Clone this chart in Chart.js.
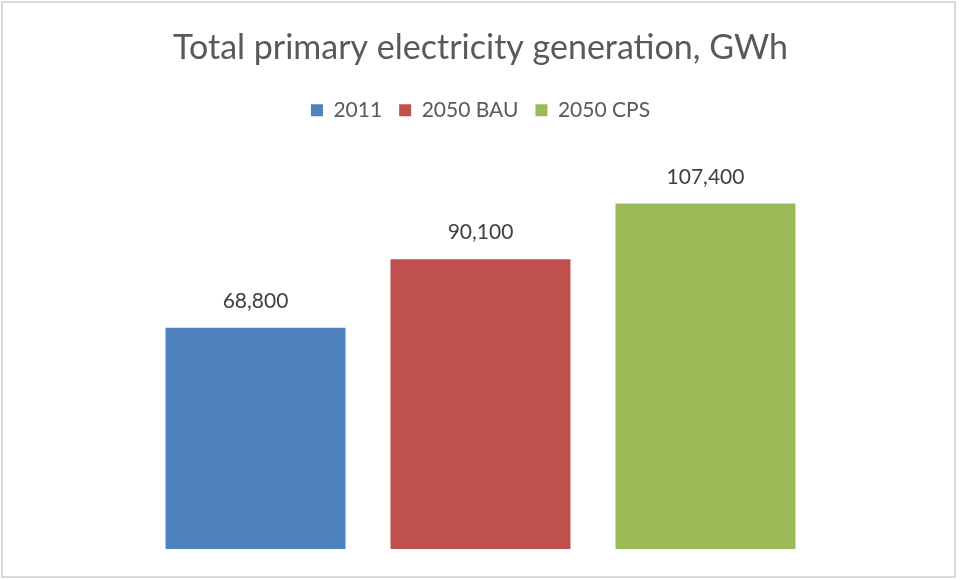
<!DOCTYPE html>
<html>
<head>
<meta charset="utf-8">
<script src="https://cdn.jsdelivr.net/npm/chart.js@4"></script>
<style>
  html, body { margin: 0; padding: 0; background: #fff; }
  #wrap { position: absolute; left: 0; top: 0; width: 961px; height: 580px; }
</style>
</head>
<body>
<div id="wrap"><canvas id="c" width="961" height="580"></canvas></div>
<script>
const categories = [''];
const seriesNames = ['2011', '2050 BAU', '2050 CPS'];
const series2011 = [68800];
const series2050BAU = [90100];
const series2050CPS = [107400];
const seriesColors = ['#4f81bd', '#c0504d', '#9bbb59'];

const FONT = 'Lato, "Open Sans", sans-serif';

const borderPlugin = {
  id: 'frame',
  beforeDraw(chart) {
    const ctx = chart.ctx;
    ctx.save();
    ctx.fillStyle = '#ffffff';
    ctx.fillRect(0, 0, chart.width, chart.height);
    ctx.strokeStyle = '#d9d9d9';
    ctx.lineWidth = 2;
    ctx.strokeRect(2, 2, 953, 575);
    ctx.restore();
  }
};

const valueLabels = {
  id: 'valueLabels',
  afterDatasetsDraw(chart) {
    const ctx = chart.ctx;
    ctx.save();
    ctx.font = '21px ' + FONT;
    ctx.fillStyle = '#404040';
    ctx.textAlign = 'center';
    ctx.textBaseline = 'bottom';
    chart.data.datasets.forEach((ds, i) => {
      const meta = chart.getDatasetMeta(i);
      meta.data.forEach((bar, j) => {
        const v = ds.data[j];
        ctx.fillText(v.toLocaleString('en-US'), bar.x, bar.y - 16);
      });
    });
    ctx.restore();
  }
};

new Chart(document.getElementById('c'), {
  type: 'bar',
  data: {
    labels: categories,
    datasets: [
      { label: seriesNames[0], data: series2011, backgroundColor: seriesColors[0] },
      { label: seriesNames[1], data: series2050BAU, backgroundColor: seriesColors[1] },
      { label: seriesNames[2], data: series2050CPS, backgroundColor: seriesColors[2] }
    ]
  },
  options: {
    responsive: false,
    animation: false,
    events: [],
    categoryPercentage: 0.887,
    barPercentage: 0.8,
    layout: { padding: { left: 100, right: 100, top: 0, bottom: 31 } },
    scales: {
      x: { display: false },
      y: { display: false, min: 0, max: 130000 }
    },
    plugins: {
      title: {
        display: true,
        text: 'Total primary electricity generation, GWh',
        color: '#595959',
        font: { family: FONT, size: 34, weight: 'normal' },
        padding: { top: 28, bottom: 14 }
      },
      legend: {
        display: true,
        labels: {
          color: '#595959',
          font: { family: FONT, size: 21 },
          boxWidth: 12,
          boxHeight: 12,
          padding: 17
        }
      },
      tooltip: { enabled: false }
    }
  },
  plugins: [borderPlugin, valueLabels]
});
</script>
</body>
</html>
